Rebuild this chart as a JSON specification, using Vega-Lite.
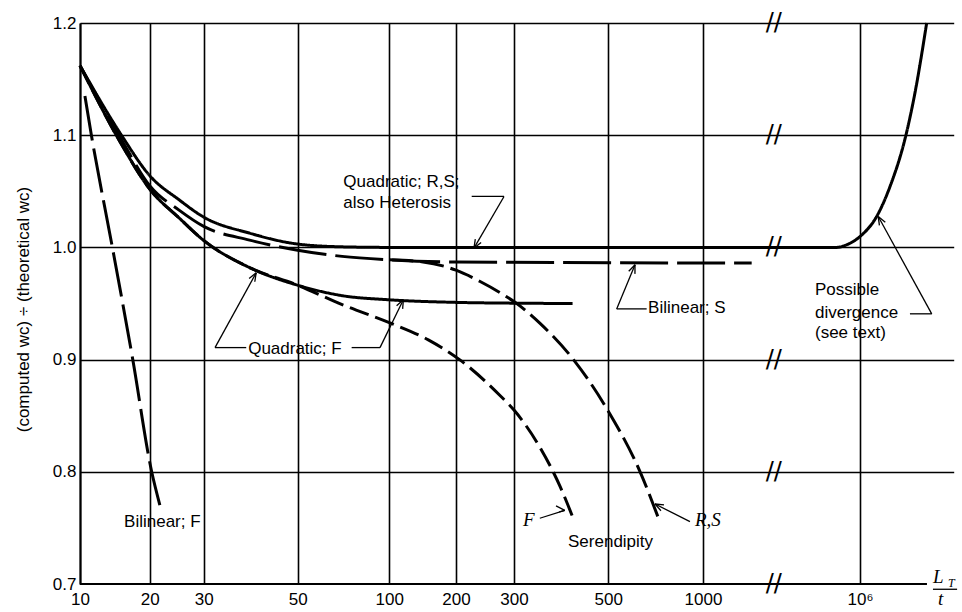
{
  "$schema": "https://vega.github.io/schema/vega-lite/v6.json",
  "description": "Ratio of computed to theoretical w_c against L_T/t for several element types.",
  "width": 873,
  "height": 561,
  "autosize": {"type": "none"},
  "padding": {"left": 80, "top": 23, "right": 9, "bottom": 28},
  "background": "white",
  "config": {"view": {"stroke": null}, "font": "Liberation Sans"},
  "datasets": {
    "curves": [
      {"curve": "Quadratic; R,S", "x": 10, "y": 1.162},
      {"curve": "Quadratic; R,S", "x": 15.1, "y": 1.1},
      {"curve": "Quadratic; R,S", "x": 20, "y": 1.064},
      {"curve": "Quadratic; R,S", "x": 25, "y": 1.0422},
      {"curve": "Quadratic; R,S", "x": 30, "y": 1.027},
      {"curve": "Quadratic; R,S", "x": 38.5, "y": 1.0127},
      {"curve": "Quadratic; R,S", "x": 50, "y": 1.003},
      {"curve": "Quadratic; R,S", "x": 70, "y": 1.0005},
      {"curve": "Quadratic; R,S", "x": 100, "y": 1.0},
      {"curve": "Quadratic; R,S", "x": 1000, "y": 1.0},
      {"curve": "Quadratic; R,S", "x": 550000, "y": 1.0},
      {"curve": "Quadratic; R,S", "x": 710000, "y": 1.0023},
      {"curve": "Quadratic; R,S", "x": 1000000, "y": 1.0097},
      {"curve": "Quadratic; R,S", "x": 1530000, "y": 1.0275},
      {"curve": "Quadratic; R,S", "x": 2150000, "y": 1.054},
      {"curve": "Quadratic; R,S", "x": 3240000, "y": 1.1},
      {"curve": "Quadratic; R,S", "x": 4080000, "y": 1.1376},
      {"curve": "Quadratic; R,S", "x": 5510000, "y": 1.2},

      {"curve": "Bilinear; S", "x": 10, "y": 1.162},
      {"curve": "Bilinear; S", "x": 15.1, "y": 1.096},
      {"curve": "Bilinear; S", "x": 20, "y": 1.055},
      {"curve": "Bilinear; S", "x": 25, "y": 1.033},
      {"curve": "Bilinear; S", "x": 30, "y": 1.0187},
      {"curve": "Bilinear; S", "x": 38.5, "y": 1.0065},
      {"curve": "Bilinear; S", "x": 50, "y": 0.9975},
      {"curve": "Bilinear; S", "x": 70, "y": 0.992},
      {"curve": "Bilinear; S", "x": 100, "y": 0.989},
      {"curve": "Bilinear; S", "x": 200, "y": 0.987},
      {"curve": "Bilinear; S", "x": 1407, "y": 0.986},

      {"curve": "Serendipity; R,S", "x": 100, "y": 0.989},
      {"curve": "Serendipity; R,S", "x": 142, "y": 0.987},
      {"curve": "Serendipity; R,S", "x": 200, "y": 0.9797},
      {"curve": "Serendipity; R,S", "x": 236, "y": 0.9698},
      {"curve": "Serendipity; R,S", "x": 285, "y": 0.956},
      {"curve": "Serendipity; R,S", "x": 300, "y": 0.9517},
      {"curve": "Serendipity; R,S", "x": 345, "y": 0.9325},
      {"curve": "Serendipity; R,S", "x": 414, "y": 0.9},
      {"curve": "Serendipity; R,S", "x": 500, "y": 0.854},
      {"curve": "Serendipity; R,S", "x": 631, "y": 0.8},
      {"curve": "Serendipity; R,S", "x": 730, "y": 0.755},

      {"curve": "Quadratic; F", "x": 10, "y": 1.162},
      {"curve": "Quadratic; F", "x": 15, "y": 1.093},
      {"curve": "Quadratic; F", "x": 20, "y": 1.052},
      {"curve": "Quadratic; F", "x": 25, "y": 1.026},
      {"curve": "Quadratic; F", "x": 30, "y": 1.0062},
      {"curve": "Quadratic; F", "x": 38.5, "y": 0.982},
      {"curve": "Quadratic; F", "x": 50, "y": 0.9663},
      {"curve": "Quadratic; F", "x": 70, "y": 0.957},
      {"curve": "Quadratic; F", "x": 100, "y": 0.9533},
      {"curve": "Quadratic; F", "x": 200, "y": 0.951},
      {"curve": "Quadratic; F", "x": 300, "y": 0.9503},
      {"curve": "Quadratic; F", "x": 412, "y": 0.95},

      {"curve": "Serendipity; F", "x": 10, "y": 1.162},
      {"curve": "Serendipity; F", "x": 15, "y": 1.093},
      {"curve": "Serendipity; F", "x": 20, "y": 1.052},
      {"curve": "Serendipity; F", "x": 25, "y": 1.026},
      {"curve": "Serendipity; F", "x": 30, "y": 1.0062},
      {"curve": "Serendipity; F", "x": 38.5, "y": 0.982},
      {"curve": "Serendipity; F", "x": 50, "y": 0.9663},
      {"curve": "Serendipity; F", "x": 70, "y": 0.949},
      {"curve": "Serendipity; F", "x": 100, "y": 0.933},
      {"curve": "Serendipity; F", "x": 150, "y": 0.9176},
      {"curve": "Serendipity; F", "x": 205, "y": 0.9},
      {"curve": "Serendipity; F", "x": 272, "y": 0.868},
      {"curve": "Serendipity; F", "x": 300, "y": 0.855},
      {"curve": "Serendipity; F", "x": 345, "y": 0.822},
      {"curve": "Serendipity; F", "x": 385, "y": 0.787},
      {"curve": "Serendipity; F", "x": 412, "y": 0.76},

      {"curve": "Bilinear; F", "x": 10.5, "y": 1.135},
      {"curve": "Bilinear; F", "x": 11.2, "y": 1.1},
      {"curve": "Bilinear; F", "x": 13.8, "y": 1.0},
      {"curve": "Bilinear; F", "x": 16.9, "y": 0.9},
      {"curve": "Bilinear; F", "x": 20.3, "y": 0.8},
      {"curve": "Bilinear; F", "x": 21.6, "y": 0.77}
    ],
    "notes": [
      {"label": "Quadratic; R,S;", "x": 70.6, "y": 1.0587},
      {"label": "also Heterosis", "x": 70.6, "y": 1.0395},
      {"label": "Bilinear; S", "x": 669, "y": 0.946},
      {"label": "Quadratic; F", "x": 38.2, "y": 0.9096},
      {"label": "Bilinear; F", "x": 15.5, "y": 0.7556},
      {"label": "Serendipity", "x": 402, "y": 0.7377},
      {"label": "Possible", "x": 316000, "y": 0.9622},
      {"label": "divergence", "x": 316000, "y": 0.9414},
      {"label": "(see text)", "x": 316000, "y": 0.9236}
    ],
    "mathNotes": [
      {"label": "F", "x": 315, "y": 0.757},
      {"label": "R,S", "x": 943, "y": 0.757},
      {"label": "L", "x": 6470000, "y": 0.7065},
      {"label": "t", "x": 7350000, "y": 0.6866}
    ],
    "mathSubs": [
      {"label": "T", "x": 9500000, "y": 0.7013}
    ],
    "leaders": [
      {"x": 223.2, "y": 1.0454, "x2": 279.8, "y2": 1.0454},
      {"x": 279.8, "y": 1.0454, "x2": 226.8, "y2": 0.9994},
      {"x": 226.8, "y": 0.9994, "x2": 238.4, "y2": 1.0043},
      {"x": 226.8, "y": 0.9994, "x2": 228.9, "y2": 1.0073},

      {"x": 531.6, "y": 0.9452, "x2": 662, "y2": 0.9452},
      {"x": 531.6, "y": 0.9452, "x2": 608, "y2": 0.9845},
      {"x": 608, "y": 0.9845, "x2": 580.7, "y2": 0.9788},
      {"x": 608, "y": 0.9845, "x2": 607.6, "y2": 0.9764},

      {"x": 31.9, "y": 0.9107, "x2": 37.8, "y2": 0.9107},
      {"x": 31.9, "y": 0.9107, "x2": 39.9, "y2": 0.9773},
      {"x": 39.9, "y": 0.9773, "x2": 38.4, "y2": 0.9723},
      {"x": 39.9, "y": 0.9773, "x2": 39.6, "y2": 0.9694},

      {"x": 75.2, "y": 0.9107, "x2": 93.2, "y2": 0.9107},
      {"x": 93.2, "y": 0.9107, "x2": 115.7, "y2": 0.9533},
      {"x": 115.7, "y": 0.9533, "x2": 107.9, "y2": 0.9479},
      {"x": 115.7, "y": 0.9533, "x2": 114.9, "y2": 0.9452},

      {"x": 345, "y": 0.7586, "x2": 395, "y2": 0.7656},
      {"x": 395, "y": 0.7656, "x2": 376.7, "y2": 0.7696},
      {"x": 395, "y": 0.7656, "x2": 383.3, "y2": 0.7643},

      {"x": 909, "y": 0.7556, "x2": 704, "y2": 0.7713},
      {"x": 704, "y": 0.7713, "x2": 735, "y2": 0.7653},
      {"x": 704, "y": 0.7713, "x2": 751.7, "y2": 0.7706},

      {"x": 3590000, "y": 0.9408, "x2": 6270000, "y2": 0.9408},
      {"x": 6270000, "y": 0.9408, "x2": 1596000, "y2": 1.0275},
      {"x": 1596000, "y": 1.0275, "x2": 1643000, "y2": 1.0196},
      {"x": 1596000, "y": 1.0275, "x2": 1910000, "y2": 1.0225},

      {"x": 6470000, "y": 0.6953, "x2": 12000000, "y2": 0.6953}
    ],
    "baseline": [
      {"x": 10, "x2": 5550000, "y": 0.7}
    ],
    "breaks": [
      {"x": 110000, "y": 0.7},
      {"x": 110000, "y": 0.8},
      {"x": 110000, "y": 0.9},
      {"x": 110000, "y": 1.0},
      {"x": 110000, "y": 1.1},
      {"x": 110000, "y": 1.2}
    ]
  },
  "encoding": {
    "x": {
      "field": "x",
      "type": "quantitative",
      "scale": {
        "type": "log",
        "domain": [10, 20, 30, 50, 100, 200, 300, 500, 1000, 1600, 100000, 11000000],
        "range": [0, 69.7, 123.7, 217.7, 309.3, 376, 434, 528.3, 623, 690, 690, 873.7],
        "nice": false
      },
      "axis": {
        "values": [10, 20, 30, 50, 100, 200, 300, 500, 1000, 1000000],
        "labelExpr": "datum.value >= 1000000 ? '10⁶' : format(datum.value, 'd')",
        "grid": true,
        "gridColor": "black",
        "gridWidth": 1.6,
        "gridOpacity": 1,
        "domain": false,
        "ticks": false,
        "labelPadding": 7,
        "labelFont": "Liberation Sans",
        "labelFontSize": 17,
        "labelColor": "black",
        "labelFlush": false,
        "labelOverlap": false,
        "title": null
      }
    },
    "y": {
      "field": "y",
      "type": "quantitative",
      "scale": {"domain": [0.7, 1.2], "nice": false, "zero": false},
      "axis": {
        "values": [0.7, 0.8, 0.9, 1.0, 1.1, 1.2],
        "format": ".1f",
        "grid": true,
        "gridColor": "black",
        "gridWidth": 1.6,
        "gridOpacity": {"condition": {"test": "datum.value < 0.75", "value": 0}, "value": 1},
        "domain": true,
        "domainColor": "black",
        "domainWidth": 2,
        "ticks": false,
        "labelPadding": 4,
        "labelFont": "Liberation Sans",
        "labelFontSize": 17,
        "labelColor": "black",
        "labelFlush": false,
        "title": "(computed wc) ÷ (theoretical wc)",
        "titleFont": "Liberation Sans",
        "titleFontSize": 17,
        "titleFontWeight": "normal",
        "titleColor": "black",
        "titleAngle": -90,
        "titleAlign": "center",
        "titleBaseline": "middle",
        "titleX": -57,
        "titleY": 286
      }
    }
  },
  "layer": [
    {
      "data": {"name": "baseline"},
      "mark": {"type": "rule", "color": "black", "strokeWidth": 2},
      "encoding": {"x2": {"field": "x2"}}
    },
    {
      "data": {"name": "curves"},
      "mark": {"type": "line", "color": "black", "strokeWidth": 3, "interpolate": "monotone"},
      "encoding": {
        "strokeDash": {
          "field": "curve",
          "type": "nominal",
          "scale": {
            "domain": ["Quadratic; R,S", "Quadratic; F", "Bilinear; S", "Serendipity; R,S", "Serendipity; F", "Bilinear; F"],
            "range": [[1, 0], [1, 0], [48, 9], [24, 7], [20, 7], [45, 8]]
          },
          "legend": null
        }
      }
    },
    {
      "data": {"name": "leaders"},
      "mark": {"type": "rule", "color": "black", "strokeWidth": 1.3},
      "encoding": {"x2": {"field": "x2"}, "y2": {"field": "y2"}}
    },
    {
      "data": {"name": "breaks"},
      "mark": {"type": "text", "text": "//", "font": "DejaVu Sans", "fontSize": 24, "color": "black", "align": "center", "baseline": "middle"}
    },
    {
      "data": {"name": "notes"},
      "mark": {"type": "text", "font": "Liberation Sans", "fontSize": 17, "color": "black", "align": "left", "baseline": "middle"},
      "encoding": {"text": {"field": "label"}}
    },
    {
      "data": {"name": "mathNotes"},
      "mark": {"type": "text", "font": "Liberation Serif", "fontStyle": "italic", "fontSize": 19, "color": "black", "align": "left", "baseline": "middle"},
      "encoding": {"text": {"field": "label"}}
    },
    {
      "data": {"name": "mathSubs"},
      "mark": {"type": "text", "font": "Liberation Serif", "fontStyle": "italic", "fontSize": 12, "color": "black", "align": "left", "baseline": "middle"},
      "encoding": {"text": {"field": "label"}}
    }
  ]
}
